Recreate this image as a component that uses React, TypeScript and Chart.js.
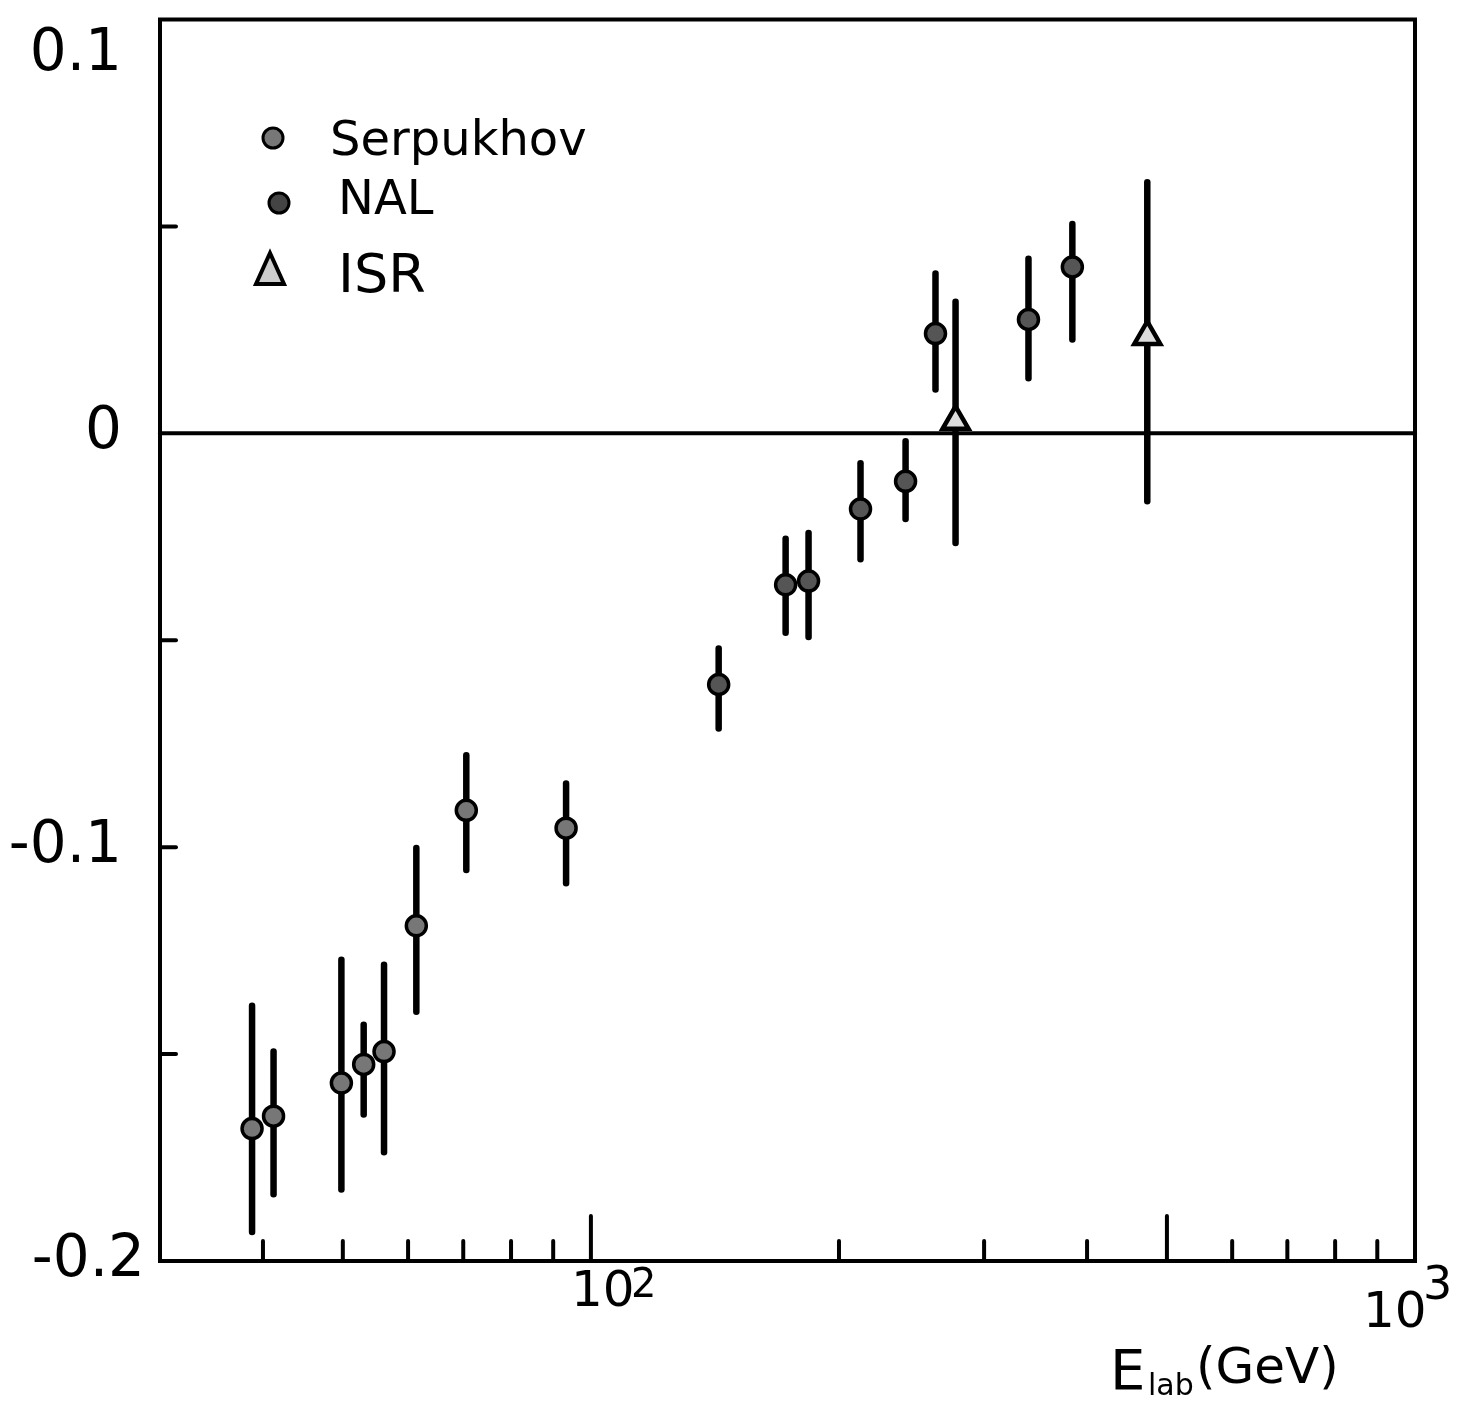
import React, { useEffect, useRef } from "react";
import { Chart, registerables } from "chart.js";

Chart.register(...registerables);

// ---- Data ----
const serpEnergy = [38.8, 41.2, 49.8, 53.0, 56.1, 61.4, 70.6, 93.3];
const serpRho = [-0.168, -0.165, -0.157, -0.1525, -0.1494, -0.119, -0.0911, -0.0954];
const serpHigh = [-0.1383, -0.1494, -0.1272, -0.1429, -0.1284, -0.1002, -0.0778, -0.0846];
const serpLow = [-0.193, -0.1839, -0.1827, -0.1646, -0.1737, -0.1398, -0.1055, -0.1087];

const nalEnergy = [142.9, 172.3, 183.7, 212.4, 240.9, 261.9, 339.6, 383.9];
const nalRho = [-0.0607, -0.0366, -0.0357, -0.0183, -0.0116, 0.0241, 0.0275, 0.0402];
const nalHigh = [-0.052, -0.0255, -0.0241, -0.0072, -0.0019, 0.0386, 0.0422, 0.0506];
const nalLow = [-0.0713, -0.0482, -0.0492, -0.0304, -0.0207, 0.0106, 0.0133, 0.0227];

const isrEnergy = [277.0, 473.3];
const isrRho = [0.0029, 0.0234];
const isrHigh = [0.0318, 0.0607];
const isrLow = [-0.0265, -0.0164];

const yTickValues = [0.05, -0.05, -0.1, -0.15];
const yLabelValues = [0.1, 0, -0.1, -0.2];
const yLabelTexts = ["0.1", "0", "-0.1", "-0.2"];
const xMinorTicks = [40, 50, 60, 70, 80, 90, 200, 300, 400, 600, 700, 800, 900];
const xMajorTicks = [100, 500];
const legendNames = ["Serpukhov", "NAL", "ISR"];

const FONT = "'DejaVu Sans', sans-serif";

const errorBarPlugin = {
  id: "errorBars",
  beforeDatasetsDraw(chart: any) {
    const ctx = chart.ctx;
    const x = chart.scales.x;
    const y = chart.scales.y;
    ctx.save();
    ctx.strokeStyle = "#000";
    ctx.lineWidth = 6.5;
    ctx.lineCap = "round";
    chart.data.datasets.forEach((ds: any) => {
      ds.data.forEach((p: any, i: number) => {
        const px = x.getPixelForValue(p.x);
        ctx.beginPath();
        ctx.moveTo(px, y.getPixelForValue(ds.errHigh[i]));
        ctx.lineTo(px, y.getPixelForValue(ds.errLow[i]));
        ctx.stroke();
      });
    });
    ctx.restore();
  },
};

const framePlugin = {
  id: "frame",
  beforeDatasetsDraw(chart: any) {
    const ctx = chart.ctx;
    const { left, right, top, bottom } = chart.chartArea;
    const x = chart.scales.x;
    const y = chart.scales.y;
    ctx.save();
    ctx.strokeStyle = "#000";
    ctx.lineCap = "round";
    ctx.lineWidth = 4;
    ctx.strokeRect(left, top, right - left, bottom - top);
    // zero line
    ctx.lineWidth = 4;
    ctx.beginPath();
    ctx.moveTo(left, y.getPixelForValue(0));
    ctx.lineTo(right, y.getPixelForValue(0));
    ctx.stroke();
    // y ticks (inward)
    ctx.lineWidth = 4;
    yTickValues.forEach((v) => {
      const py = y.getPixelForValue(v);
      ctx.beginPath();
      ctx.moveTo(left, py);
      ctx.lineTo(left + 16, py);
      ctx.stroke();
    });
    // x ticks (inward)
    xMinorTicks.forEach((v) => {
      const px = x.getPixelForValue(v);
      ctx.beginPath();
      ctx.moveTo(px, bottom);
      ctx.lineTo(px, bottom - 20);
      ctx.stroke();
    });
    xMajorTicks.forEach((v) => {
      const px = x.getPixelForValue(v);
      ctx.beginPath();
      ctx.moveTo(px, bottom);
      ctx.lineTo(px, bottom - 45);
      ctx.stroke();
    });
    ctx.restore();
  },
  afterDraw(chart: any) {
    const ctx = chart.ctx;
    const { top, bottom } = chart.chartArea;
    const x = chart.scales.x;
    const y = chart.scales.y;
    ctx.save();
    ctx.fillStyle = "#000";
    // y labels
    ctx.font = `58px ${FONT}`;
    ctx.textAlign = "right";
    ctx.textBaseline = "middle";
    yLabelValues.forEach((v, i) => {
      let py = y.getPixelForValue(v);
      if (py < top + 35) py = top + 35;
      const xr = i === yLabelValues.length - 1 ? 145 : 122;
      ctx.fillText(yLabelTexts[i], xr, py);
    });
    // x labels 10^2, 10^3
    ctx.textAlign = "left";
    ctx.textBaseline = "alphabetic";
    const p100 = x.getPixelForValue(100);
    ctx.font = `50px ${FONT}`;
    ctx.fillText("10", p100 - 20, bottom + 45);
    ctx.font = `40px ${FONT}`;
    ctx.fillText("2", p100 + 40, bottom + 36);
    const p1000 = x.getPixelForValue(1000);
    ctx.font = `50px ${FONT}`;
    ctx.fillText("10", p1000 - 52, bottom + 66);
    ctx.font = `46px ${FONT}`;
    ctx.fillText("3", p1000 + 8, bottom + 38);
    // axis title
    ctx.font = `56px ${FONT}`;
    ctx.fillText("E", 1110, bottom + 128);
    ctx.font = `30px ${FONT}`;
    ctx.fillText("lab", 1148, bottom + 134);
    ctx.font = `50px ${FONT}`;
    ctx.fillText("(GeV)", 1196, bottom + 122);
    // legend
    ctx.lineWidth = 3;
    ctx.strokeStyle = "#000";
    ctx.fillStyle = "#777";
    ctx.beginPath();
    ctx.arc(273, 138, 10, 0, Math.PI * 2);
    ctx.fill();
    ctx.stroke();
    ctx.fillStyle = "#444";
    ctx.beginPath();
    ctx.arc(279, 203, 10, 0, Math.PI * 2);
    ctx.fill();
    ctx.stroke();
    ctx.fillStyle = "#ccc";
    ctx.lineWidth = 4;
    ctx.beginPath();
    ctx.moveTo(270, 253);
    ctx.lineTo(284, 284);
    ctx.lineTo(256, 284);
    ctx.closePath();
    ctx.fill();
    ctx.stroke();
    ctx.fillStyle = "#000";
    ctx.font = `48px ${FONT}`;
    ctx.fillText(legendNames[0], 330, 155);
    ctx.fillText(legendNames[1], 338, 214);
    ctx.font = `54px ${FONT}`;
    ctx.fillText(legendNames[2], 338, 292);
    ctx.restore();
  },
};

export default function App() {
  const ref = useRef<HTMLCanvasElement | null>(null);
  useEffect(() => {
    document.body.style.margin = "0";
    if (!ref.current) return;
    const toPts = (xs: number[], ys: number[]) => xs.map((v, i) => ({ x: v, y: ys[i] }));
    const chart = new Chart(ref.current, {
      type: "scatter",
      data: {
        datasets: [
          {
            label: legendNames[0],
            data: toPts(serpEnergy, serpRho),
            errHigh: serpHigh,
            errLow: serpLow,
            pointStyle: "circle",
            pointRadius: 10,
            backgroundColor: "#777",
            borderColor: "#000",
            borderWidth: 3.5,
          } as any,
          {
            label: legendNames[1],
            data: toPts(nalEnergy, nalRho),
            errHigh: nalHigh,
            errLow: nalLow,
            pointStyle: "circle",
            pointRadius: 10,
            backgroundColor: "#555",
            borderColor: "#000",
            borderWidth: 3.5,
          } as any,
          {
            label: legendNames[2],
            data: toPts(isrEnergy, isrRho),
            errHigh: isrHigh,
            errLow: isrLow,
            pointStyle: "triangle",
            pointRadius: 15,
            backgroundColor: "#ddd",
            borderColor: "#000",
            borderWidth: 4.5,
          } as any,
        ],
      },
      options: {
        responsive: false,
        animation: false,
        layout: { padding: { left: 160, top: 15, right: 57, bottom: 152 } },
        plugins: { legend: { display: false }, tooltip: { enabled: false } },
        scales: {
          x: {
            type: "logarithmic",
            min: 30,
            max: 1000,
            ticks: { display: false },
            grid: { display: false },
            border: { display: false },
            afterFit: (s: any) => {
              s.height = 0;
            },
          },
          y: {
            type: "linear",
            min: -0.2,
            max: 0.1,
            ticks: { display: false },
            grid: { display: false },
            border: { display: false },
            afterFit: (s: any) => {
              s.width = 0;
            },
          },
        },
      },
      plugins: [errorBarPlugin, framePlugin],
    } as any);
    return () => chart.destroy();
  }, []);
  return (
    <div style={{ width: 1472, height: 1413, background: "#fff" }}>
      <canvas ref={ref} width={1472} height={1413} style={{ display: "block" }} />
    </div>
  );
}
